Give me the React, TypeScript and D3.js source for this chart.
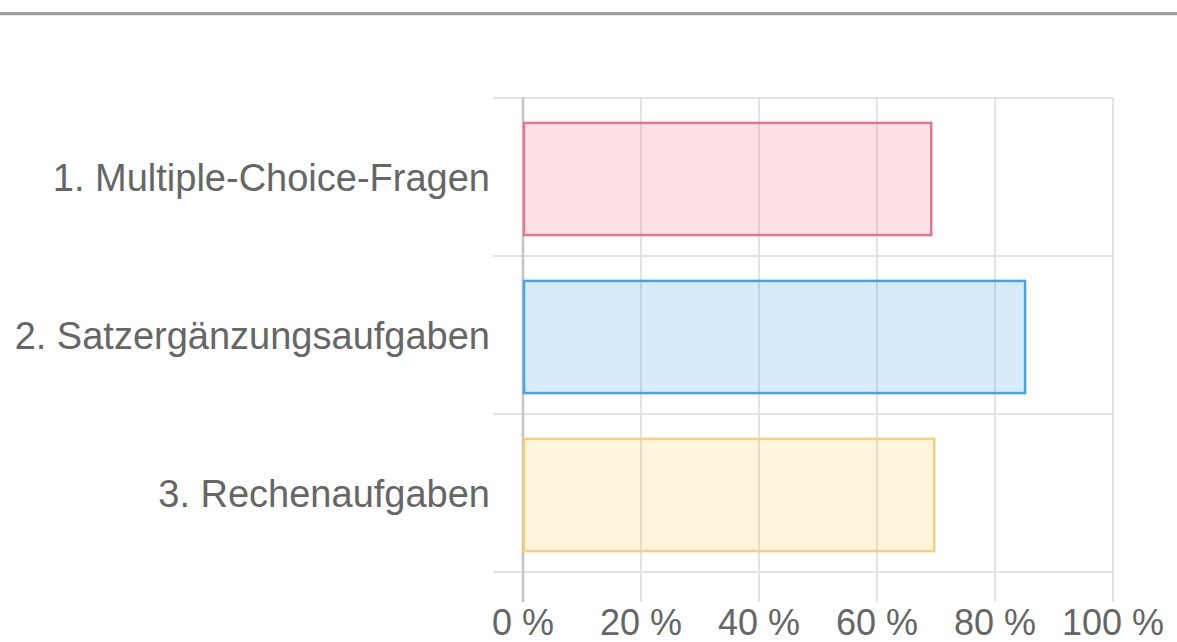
import React from "react";
import * as d3 from "d3";

const categories = ["1. Multiple-Choice-Fragen", "2. Satzergänzungsaufgaben", "3. Rechenaufgaben"];
const values = [69.2, 85.1, 69.7];
const fills = ["rgba(255,99,132,0.2)", "rgba(54,162,235,0.2)", "rgba(255,206,86,0.2)"];
const strokes = ["rgb(225,120,145)", "rgb(75,160,222)", "rgb(242,208,125)"];
const xTicks = [0, 20, 40, 60, 80, 100];

export default function App() {
  const W = 1177;
  const H = 642;
  const x = d3.scaleLinear().domain([0, 100]).range([523, 1113]);
  const y = d3.scaleBand<string>().domain(categories).range([98, 572]);
  const bw = y.bandwidth();
  const barH = bw * 0.71;
  const font = "'Liberation Sans', Arial, Helvetica, sans-serif";
  return (
    <svg width={W} height={H} style={{ position: "absolute", left: 0, top: 0, background: "#fff" }}>
      <rect x={0} y={12} width={W} height={3} fill="#9e9e9e" />
      <rect x={0} y={15} width={W} height={1} fill="#e4e4e4" />
      {[...categories.map((c) => y(c) as number), 572].map((gy, i) => (
        <line key={"h" + i} x1={493} x2={x(100)} y1={gy} y2={gy} stroke="#e3e3e3" strokeWidth={2} />
      ))}
      {xTicks.map((t) => (
        <line
          key={"v" + t}
          x1={x(t)}
          x2={x(t)}
          y1={97}
          y2={602}
          stroke={t === 0 ? "#c4c4c4" : "#e3e3e3"}
          strokeWidth={t === 0 ? 2.5 : 2}
        />
      ))}
      {categories.map((c, i) => {
        const yc = (y(c) as number) + bw / 2 + 2;
        return (
          <rect
            key={c}
            x={x(0) + 1}
            y={yc - barH / 2}
            width={x(values[i]) - x(0) - 1}
            height={barH}
            fill={fills[i]}
            stroke={strokes[i]}
            strokeWidth={2.5}
          />
        );
      })}
      {categories.map((c) => (
        <text
          key={"l" + c}
          x={490}
          y={(y(c) as number) + bw / 2}
          dy="0.36em"
          textAnchor="end"
          fontFamily={font}
          fontSize={38}
          fill="#666"
        >
          {c}
        </text>
      ))}
      {xTicks.map((t) => (
        <text
          key={"t" + t}
          x={x(t)}
          y={635}
          textAnchor="middle"
          fontFamily={font}
          fontSize={36}
          fill="#666"
        >
          {t + " %"}
        </text>
      ))}
    </svg>
  );
}
